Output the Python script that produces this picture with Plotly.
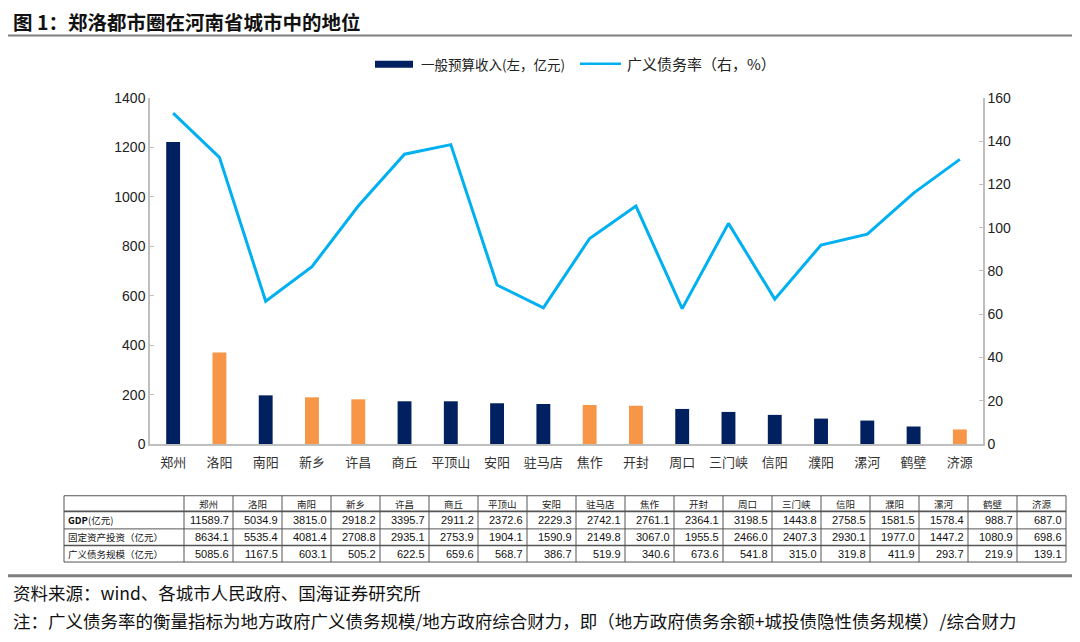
import plotly.graph_objects as go

cities = ["郑州", "洛阳", "南阳", "新乡", "许昌", "商丘", "平顶山", "安阳", "驻马店",
          "焦作", "开封", "周口", "三门峡", "信阳", "濮阳", "漯河", "鹤壁", "济源"]
budget_rev = [1222, 370, 197, 189, 181, 173, 173, 165, 162, 158, 155, 142, 130, 118, 103, 95, 71, 59]
debt_ratio = [153, 132.5, 66, 82, 110, 134, 138.4, 73.5, 63, 95, 110, 62.6, 102, 67, 92, 97, 116, 131.6]
in_circle = [False, True, False, True, True, False, False, False, False,
             True, True, False, False, False, False, False, False, True]

gdp = [11589.7, 5034.9, 3815.0, 2918.2, 3395.7, 2911.2, 2372.6, 2229.3, 2742.1,
       2761.1, 2364.1, 3198.5, 1443.8, 2758.5, 1581.5, 1578.4, 988.7, 687.0]
fai = [8634.1, 5535.4, 4081.4, 2708.8, 2935.1, 2753.9, 1904.1, 1590.9, 2149.8,
       3067.0, 1955.5, 2466.0, 2407.3, 2930.1, 1977.0, 1447.2, 1080.9, 698.6]
debt_scale = [5085.6, 1167.5, 603.1, 505.2, 622.5, 659.6, 568.7, 386.7, 519.9,
              340.6, 673.6, 541.8, 315.0, 319.8, 411.9, 293.7, 219.9, 139.1]
row_labels = ["<b>GDP</b>(亿元)", "固定资产投资（亿元）", "广义债务规模（亿元）"]

left_ticks = [0, 200, 400, 600, 800, 1000, 1200, 1400]
right_ticks = [0, 20, 40, 60, 80, 100, 120, 140, 160]

NAVY = "#002060"
ORANGE = "#F79646"
CYAN = "#00B0F0"
W, H = 1080, 642
OFF = 8  # page offset of the figure
CJK = "Noto Sans CJK SC"
ARIAL = "Liberation Sans, Arial"


def px(X):
    return (X - OFF) / W


def py(Y):
    return (H - (Y - OFF)) / H


bar_colors = [ORANGE if c else NAVY for c in in_circle]

fig = go.Figure()
fig.add_trace(go.Bar(x=cities, y=budget_rev, marker=dict(color=bar_colors, line=dict(width=0)),
                     name="一般预算收入(左，亿元)", showlegend=False, yaxis="y"))
fig.add_trace(go.Scatter(x=cities, y=debt_ratio, mode="lines", line=dict(color=CYAN, width=3),
                         name="广义债务率（右，%）", showlegend=False, yaxis="y2"))

fig.update_layout(
    width=W, height=H, margin=dict(l=0, r=0, t=0, b=0),
    paper_bgcolor="white", plot_bgcolor="white",
    bargap=0.7,
    xaxis=dict(domain=[px(150), px(983)], showline=True, linecolor="#BFBFBF", linewidth=1.5,
               ticks="", tickfont=dict(family=CJK, size=13, color="#333"), ticklabelstandoff=6,
               showgrid=False, anchor="y"),
    yaxis=dict(range=[0, 1400], tickvals=left_ticks, domain=[py(447), py(92)], showline=True,
               linecolor="#BFBFBF", linewidth=1.5, ticks="inside", ticklen=4, tickcolor="#BFBFBF",
               showgrid=False, zeroline=False,
               tickfont=dict(family=ARIAL, size=14, color="#222")),
    yaxis2=dict(range=[0, 160], tickvals=right_ticks, overlaying="y", side="right",
                showline=True, linecolor="#BFBFBF", linewidth=1.5, ticks="inside", ticklen=4,
                tickcolor="#BFBFBF", showgrid=False, zeroline=False,
                tickfont=dict(family=ARIAL, size=14, color="#222")),
)

# Title and separators
fig.add_annotation(xref="paper", yref="paper", x=px(11), y=py(14), xanchor="left", yanchor="middle",
                   text="<b>图 1：郑洛都市圈在河南省城市中的地位</b>", showarrow=False,
                   font=dict(family=CJK, size=19.5, color="#111"))
fig.add_shape(type="line", xref="paper", yref="paper", x0=0, x1=1, y0=py(28), y1=py(28),
              line=dict(color="#7F7F7F", width=2))
fig.add_shape(type="line", xref="paper", yref="paper", x0=0, x1=1, y0=py(582), y1=py(582),
              line=dict(color="#7F7F7F", width=3))

# Legend
fig.add_shape(type="rect", xref="paper", yref="paper", x0=px(375), x1=px(413),
              y0=py(61), y1=py(54), fillcolor=NAVY, line=dict(width=0))
fig.add_annotation(xref="paper", yref="paper", x=px(419), y=py(57), xanchor="left", yanchor="middle",
                   text="一般预算收入(左，亿元)", showarrow=False, font=dict(family=CJK, size=13.5, color="#222"))
fig.add_shape(type="line", xref="paper", yref="paper", x0=px(580), x1=px(621),
              y0=py(57), y1=py(57), line=dict(color=CYAN, width=2.5))
fig.add_annotation(xref="paper", yref="paper", x=px(625), y=py(57), xanchor="left", yanchor="middle",
                   text="广义债务率（右，%）", showarrow=False, font=dict(family=CJK, size=15, color="#222"))

# Table (grid + texts)
t_left, t_first, col_w = 64, 184, 49
row_edges = [500, 516, 534, 551, 568]
n = len(cities)
t_right = t_first + n * col_w
col_edges = [t_left, t_first] + [t_first + (i + 1) * col_w for i in range(n)]
for k, ye in enumerate(row_edges):
    wdt = 1.6 if k in (1, 3) else 1
    fig.add_shape(type="line", xref="paper", yref="paper", x0=px(t_left), x1=px(t_right),
                  y0=py(ye), y1=py(ye), line=dict(color="#555", width=wdt))
for xe in col_edges:
    fig.add_shape(type="line", xref="paper", yref="paper", x0=px(xe), x1=px(xe),
                  y0=py(row_edges[0]), y1=py(row_edges[-1]), line=dict(color="#555", width=1))

for i, c in enumerate(cities):
    xc = t_first + (i + 0.5) * col_w
    fig.add_annotation(xref="paper", yref="paper", x=px(xc), y=py((row_edges[0] + row_edges[1]) / 2),
                       text=c, showarrow=False, xanchor="center", yanchor="middle",
                       font=dict(family=CJK, size=9.5, color="#222"))
    for r, vals in enumerate([gdp, fai, debt_scale]):
        yc = (row_edges[r + 1] + row_edges[r + 2]) / 2
        fig.add_annotation(xref="paper", yref="paper", x=px(t_first + (i + 1) * col_w - 2), y=py(yc),
                           text=f"{vals[i]:.1f}", showarrow=False, xanchor="right", yanchor="middle",
                           font=dict(family=ARIAL, size=11, color="#111"))
for r, lab in enumerate(row_labels):
    yc = (row_edges[r + 1] + row_edges[r + 2]) / 2
    fig.add_annotation(xref="paper", yref="paper", x=px(t_left + 2), y=py(yc),
                       text=lab, showarrow=False, xanchor="left", yanchor="middle",
                       font=dict(family=CJK, size=9.5, color="#111"))

# Footer
fig.add_annotation(xref="paper", yref="paper", x=px(11), y=py(599), xanchor="left", yanchor="middle",
                   text="资料来源：wind、各城市人民政府、国海证券研究所", showarrow=False,
                   font=dict(family=CJK, size=17.5, color="#111"))
fig.add_annotation(xref="paper", yref="paper", x=px(11), y=py(628), xanchor="left", yanchor="middle",
                   text="注：广义债务率的衡量指标为地方政府广义债务规模/地方政府综合财力，即（地方政府债务余额+城投债隐性债务规模）/综合财力",
                   showarrow=False, font=dict(family=CJK, size=17.5, color="#111"))

fig.write_html("out.html")
